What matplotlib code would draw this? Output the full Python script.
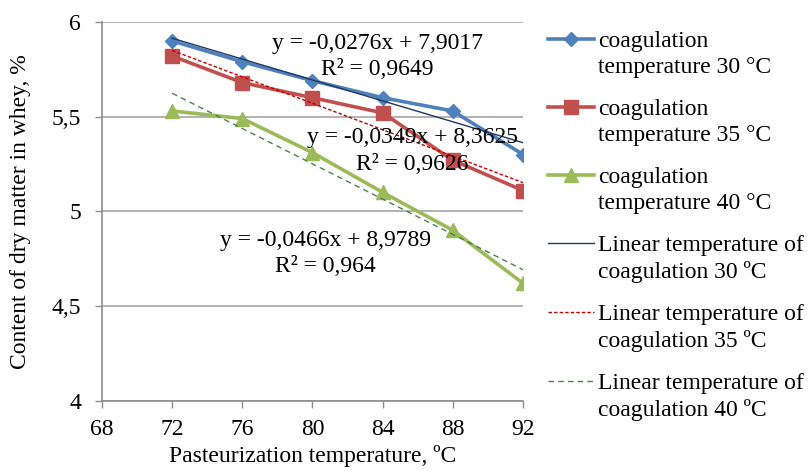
import matplotlib
matplotlib.use("Agg")
import matplotlib.pyplot as plt
from matplotlib.legend_handler import HandlerLine2D
from matplotlib.ticker import FuncFormatter
import numpy as np

plt.rcParams["font.family"] = ["Liberation Serif", "DejaVu Serif"]

# Data
pasteur_t = [72, 76, 80, 84, 88, 92]
dry_30 = [5.90, 5.79, 5.69, 5.60, 5.53, 5.30]
dry_35 = [5.82, 5.68, 5.60, 5.52, 5.27, 5.11]
dry_40 = [5.53, 5.49, 5.31, 5.10, 4.90, 4.62]

# Trendline equations as printed on the chart (slope, intercept)
fit_30 = (-0.0276, 7.9017)
fit_35 = (-0.0349, 8.3625)
fit_40 = (-0.0466, 8.9789)

eq_30 = "y = -0,0276x + 7,9017\nR² = 0,9649"
eq_35 = "y = -0,0349x + 8,3625\nR² = 0,9626"
eq_40 = "y = -0,0466x + 8,9789\nR² = 0,964"

BLUE = "#4F81BD"
RED = "#C0504D"
GREEN = "#9BBB59"
FS = 17
LSP = 1.33


class TopLineHandler(HandlerLine2D):
    """Put the legend handle next to the first line of a two-line label."""

    def create_artists(self, legend, orig_handle, xdescent, ydescent,
                       width, height, fontsize, trans):
        artists = super().create_artists(legend, orig_handle, xdescent,
                                         ydescent, width, height,
                                         fontsize, trans)
        for a in artists:
            a.set_ydata(np.asarray(a.get_ydata()) + fontsize * 0.66)
        return artists


fig = plt.figure(figsize=(8.12, 4.71), dpi=100)
ax = fig.add_axes([0.1256, 0.1493, 0.5185, 0.804])

x = np.array(pasteur_t)
l1, = ax.plot(x, dry_30, color=BLUE, lw=2.6, marker="D", ms=7,
              label="coagulation\ntemperature 30 °C", zorder=4)
l2, = ax.plot(x, dry_35, color=RED, lw=2.6, marker="s", ms=9.5,
              label="coagulation\ntemperature 35 °C", zorder=4)
l3, = ax.plot(x, dry_40, color=GREEN, lw=2.6, marker="^", ms=10,
              label="coagulation\ntemperature 40 °C", zorder=4)

xs = np.array([pasteur_t[0], pasteur_t[-1]])
t1, = ax.plot(xs, fit_30[0] * xs + fit_30[1], color="#1F3864", lw=1.0,
              label="Linear temperature of\ncoagulation 30 ºC", zorder=5)
t2, = ax.plot(xs, fit_35[0] * xs + fit_35[1], color="#C00000", lw=1.0,
              ls=(0, (2.5, 1.5)),
              label="Linear temperature of\ncoagulation 35 ºC", zorder=5)
t3, = ax.plot(xs, fit_40[0] * xs + fit_40[1], color="#4F7F4F", lw=1.0,
              ls=(0, (4, 3)),
              label="Linear temperature of\ncoagulation 40 ºC", zorder=5)

ax.text(83.7, 5.818, eq_30, ha="center", va="center", fontsize=FS,
        linespacing=LSP, zorder=6)
ax.text(85.7, 5.319, eq_35, ha="center", va="center", fontsize=FS,
        linespacing=LSP, zorder=6)
ax.text(80.74, 4.777, eq_40, ha="center", va="center", fontsize=FS,
        linespacing=LSP, zorder=6)

ax.set_xlim(68, 92)
ax.set_ylim(4, 6)
ax.set_xticks(range(68, 93, 4))
ax.set_yticks([4, 4.5, 5, 5.5, 6])
ax.yaxis.set_major_formatter(
    FuncFormatter(lambda v, p: f"{v:g}".replace(".", ",")))
ax.tick_params(labelsize=FS, color="#8C8C8C", length=5, width=1,
               direction="out")
ax.tick_params(axis="y", pad=10)
ax.tick_params(axis="x", pad=8)
ax.grid(axis="y", color="#A6A6A6", lw=1.2)
ax.set_axisbelow(True)
for side in ("top", "right"):
    ax.spines[side].set_visible(False)
for side in ("left", "bottom"):
    ax.spines[side].set_color("#8C8C8C")
    ax.spines[side].set_linewidth(1.2)

ax.set_xlabel("Pasteurization temperature, ºC", fontsize=FS, labelpad=4)
ax.set_ylabel("Content of dry matter in whey, %", fontsize=FS, labelpad=15)

handles = [l1, l2, l3, t1, t2, t3]
leg = fig.legend(handles=handles, labels=[h.get_label() for h in handles],
                 loc="upper left", bbox_to_anchor=(0.675, 0.934),
                 frameon=False, fontsize=FS, handlelength=1.95,
                 handletextpad=0.17, labelspacing=0.87, borderpad=0,
                 borderaxespad=0,
                 handler_map={h: TopLineHandler() for h in handles})
for t in leg.get_texts():
    t.set_linespacing(LSP)

fig.savefig("out.png", dpi=100, facecolor="white")
